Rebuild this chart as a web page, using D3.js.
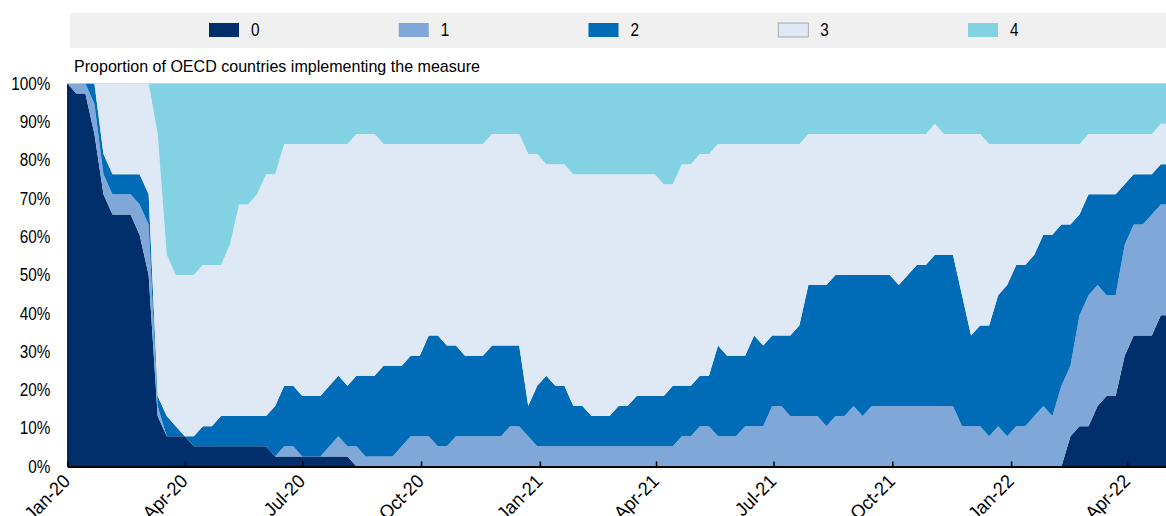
<!DOCTYPE html>
<html>
  <head>
    <meta charset="utf-8" />
    <title>Proportion of OECD countries implementing the measure</title>
    <script src="https://d3js.org/d3.v7.min.js"></script>
    <style>
      body {
        margin: 0;
        background: #fff;
        font-family: 'Liberation Sans Narrow', 'Arial Narrow', 'Liberation Sans', Arial, sans-serif;
      }
      text {
        fill: #000;
      }
    </style>
  </head>
  <body>
    <div id="chart"></div>
    <script>
      // number of OECD countries (shares are counts / 38)
      const N_COUNTRIES = 38;

      // legend categories
      const categories = ['0', '1', '2', '3', '4'];
      const colors = ['#002F6C', '#7FA8D9', '#006BB6', '#DEE9F5', '#83D2E3'];

      // weekly observations, first week = 1 Jan 2020
      const firstWeek = '2020-01-01';

      // countries per level, one value per week
      const level0 = [
        38, 37, 37, 33, 27, 25, 25, 25, 23, 19, 5, 3, 3, 3, 2, 2, 2, 2, 2, 2,
        2, 2, 2, 1, 1, 1, 1, 1, 1, 1, 1, 1, 0, 0, 0, 0, 0, 0, 0, 0,
        0, 0, 0, 0, 0, 0, 0, 0, 0, 0, 0, 0, 0, 0, 0, 0, 0, 0, 0, 0,
        0, 0, 0, 0, 0, 0, 0, 0, 0, 0, 0, 0, 0, 0, 0, 0, 0, 0, 0, 0,
        0, 0, 0, 0, 0, 0, 0, 0, 0, 0, 0, 0, 0, 0, 0, 0, 0, 0, 0, 0,
        0, 0, 0, 0, 0, 0, 0, 0, 0, 0, 0, 3, 4, 4, 6, 7, 7, 11, 13, 13,
        13, 15, 15,
      ];
      const level1 = [
        0, 1, 1, 3, 2, 2, 2, 2, 3, 5, 1, 0, 0, 0, 0, 0, 0, 0, 0, 0,
        0, 0, 0, 0, 1, 1, 0, 0, 0, 1, 2, 1, 2, 1, 1, 1, 1, 2, 3, 3,
        3, 2, 2, 3, 3, 3, 3, 3, 3, 4, 4, 3, 2, 2, 2, 2, 2, 2, 2, 2,
        2, 2, 2, 2, 2, 2, 2, 2, 3, 3, 4, 4, 3, 3, 3, 4, 4, 4, 6, 6,
        5, 5, 5, 5, 4, 5, 5, 6, 5, 6, 6, 6, 6, 6, 6, 6, 6, 6, 6, 4,
        4, 4, 3, 4, 3, 4, 4, 5, 6, 5, 8, 7, 11, 13, 12, 10, 10, 11, 11, 11,
        12, 11, 11,
      ];
      const level2 = [
        0, 0, 0, 2, 2, 2, 2, 2, 3, 3, 1, 2, 1, 0, 1, 2, 2, 3, 3, 3,
        3, 3, 3, 5, 6, 6, 6, 6, 6, 6, 6, 6, 7, 8, 8, 9, 9, 8, 8, 8,
        10, 11, 10, 9, 8, 8, 8, 9, 9, 8, 8, 3, 6, 7, 6, 6, 4, 4, 3, 3,
        3, 4, 4, 5, 5, 5, 5, 6, 5, 5, 5, 5, 9, 8, 8, 7, 9, 8, 7, 7,
        8, 9, 13, 13, 14, 14, 14, 13, 14, 13, 13, 13, 12, 13, 14, 14, 15, 15, 15, 13,
        9, 10, 11, 13, 15, 16, 16, 16, 17, 18, 16, 14, 10, 10, 9, 10, 10, 6, 5, 5,
        4, 4, 4,
      ];
      const level3 = [
        0, 0, 0, 0, 7, 9, 9, 9, 9, 11, 26, 16, 15, 16, 16, 16, 16, 15, 17, 21,
        21, 22, 24, 23, 24, 24, 25, 25, 25, 24, 23, 24, 24, 24, 24, 22, 22, 22, 21, 21,
        19, 19, 20, 20, 21, 21, 21, 21, 21, 21, 21, 25, 23, 21, 22, 22, 23, 23, 24, 24,
        24, 23, 23, 22, 22, 22, 21, 20, 22, 22, 22, 22, 20, 21, 21, 21, 19, 20, 19, 19,
        19, 18, 15, 15, 15, 14, 14, 14, 14, 14, 14, 14, 15, 14, 13, 13, 13, 12, 12, 16,
        20, 19, 18, 15, 14, 12, 12, 11, 9, 9, 8, 8, 7, 6, 6, 6, 6, 5, 4, 4,
        4, 4, 4,
      ];
      const level4 = [
        0, 0, 0, 0, 0, 0, 0, 0, 0, 0, 5, 17, 19, 19, 19, 18, 18, 18, 16, 12,
        12, 11, 9, 9, 6, 6, 6, 6, 6, 6, 6, 6, 5, 5, 5, 6, 6, 6, 6, 6,
        6, 6, 6, 6, 6, 6, 6, 5, 5, 5, 5, 7, 7, 8, 8, 8, 9, 9, 9, 9,
        9, 9, 9, 9, 9, 9, 10, 10, 8, 8, 7, 7, 6, 6, 6, 6, 6, 6, 6, 6,
        6, 6, 5, 5, 5, 5, 5, 5, 5, 5, 5, 5, 5, 5, 5, 5, 4, 5, 5, 5,
        5, 5, 6, 6, 6, 6, 6, 6, 6, 6, 6, 6, 6, 5, 5, 5, 5, 5, 5, 5,
        5, 4, 4,
      ];

      const yTicks = [0, 0.1, 0.2, 0.3, 0.4, 0.5, 0.6, 0.7, 0.8, 0.9, 1];
      const subtitle = 'Proportion of OECD countries implementing the measure';

      // layout
      const width = 1166;
      const height = 516;
      const plot = { left: 67.3, right: 1166, top: 83.5, bottom: 466.5 };
      const narrow = 0.85; // reference font is a condensed sans

      const levels = [level0, level1, level2, level3, level4];
      const start = d3.utcParse('%Y-%m-%d')(firstWeek);
      const rows = level0.map((_, i) => {
        const row = { date: d3.utcDay.offset(start, 7 * i) };
        categories.forEach((k, j) => (row[k] = levels[j][i] / N_COUNTRIES));
        return row;
      });

      // squeeze a text horizontally to mimic a narrow font
      function condense(sel, factor) {
        sel.each(function () {
          const len = this.getComputedTextLength();
          d3.select(this)
            .attr('textLength', len * factor)
            .attr('lengthAdjust', 'spacingAndGlyphs');
        });
      }

      const svg = d3
        .select('#chart')
        .append('svg')
        .attr('width', width)
        .attr('height', height);

      const x = d3
        .scaleUtc()
        .domain([start, d3.utcParse('%Y-%m-%d')('2022-05-01')])
        .range([plot.left, plot.right]);
      const y = d3.scaleLinear().domain([0, 1]).range([plot.bottom, plot.top]);
      const color = d3.scaleOrdinal().domain(categories).range(colors);

      // legend
      svg
        .append('rect')
        .attr('x', 70)
        .attr('y', 13)
        .attr('width', width - 70)
        .attr('height', 35)
        .attr('fill', '#F0F0F0');

      const legendX = d3.scaleLinear().domain([0, 4]).range([209, 968]);
      const legend = svg
        .append('g')
        .selectAll('g')
        .data(categories)
        .join('g')
        .attr('transform', (d, i) => `translate(${legendX(i)},23)`);
      legend
        .append('rect')
        .attr('width', 30)
        .attr('height', 14)
        .attr('fill', (d) => color(d))
        .attr('stroke', (d) => (d === '3' ? '#8a8a8a' : 'none'))
        .attr('stroke-width', 0.7);
      legend
        .append('text')
        .attr('x', 42)
        .attr('y', 7)
        .attr('dy', '0.35em')
        .style('font-size', '18px')
        .text((d) => d)
        .call(condense, narrow);

      // subtitle
      svg
        .append('text')
        .attr('x', 74)
        .attr('y', 72)
        .style('font-size', '17px')
        .text(subtitle)
        .attr('textLength', 406)
        .attr('lengthAdjust', 'spacingAndGlyphs');

      // areas
      svg
        .append('clipPath')
        .attr('id', 'clip')
        .append('rect')
        .attr('x', plot.left)
        .attr('y', plot.top)
        .attr('width', plot.right - plot.left)
        .attr('height', plot.bottom - plot.top);

      const series = d3.stack().keys(categories)(rows);
      const area = d3
        .area()
        .x((d) => x(d.data.date))
        .y0((d) => y(d[0]))
        .y1((d) => y(d[1]));

      svg
        .append('line')
        .attr('x1', plot.left)
        .attr('x2', plot.right)
        .attr('y1', plot.top)
        .attr('y2', plot.top)
        .attr('stroke', '#d9d9d9');

      svg
        .append('g')
        .attr('clip-path', 'url(#clip)')
        .selectAll('path')
        .data(series)
        .join('path')
        .attr('fill', (d) => color(d.key))
        .attr('d', area);

      // y axis
      const yAxis = svg
        .append('g')
        .attr('transform', `translate(${plot.left},0)`)
        .call(
          d3
            .axisLeft(y)
            .tickValues(yTicks)
            .tickFormat(d3.format('.0%'))
            .tickSize(0)
            .tickPadding(17),
        );
      yAxis.select('.domain').attr('stroke', '#000');
      yAxis
        .selectAll('text')
        .style('font-size', '18px')
        .style('font-family', null)
        .call(condense, narrow);

      // x axis
      const xAxis = svg
        .append('g')
        .attr('transform', `translate(0,${plot.bottom})`)
        .call(
          d3
            .axisBottom(x)
            .ticks(d3.utcMonth.every(3))
            .tickFormat(d3.utcFormat('%b-%y'))
            .tickSizeInner(-5)
            .tickSizeOuter(0),
        );
      xAxis.select('.domain').attr('stroke', '#000').attr('stroke-width', 2);
      xAxis.selectAll('.tick line').attr('stroke', '#000').attr('stroke-width', 1.5);
      xAxis
        .selectAll('.tick text')
        .attr('text-anchor', 'end')
        .attr('transform', 'translate(3.5,16) rotate(-45)')
        .attr('y', 0)
        .attr('dy', 0)
        .style('font-size', '19px')
        .style('font-family', null)
        .call(condense, 0.95);
    </script>
  </body>
</html>
